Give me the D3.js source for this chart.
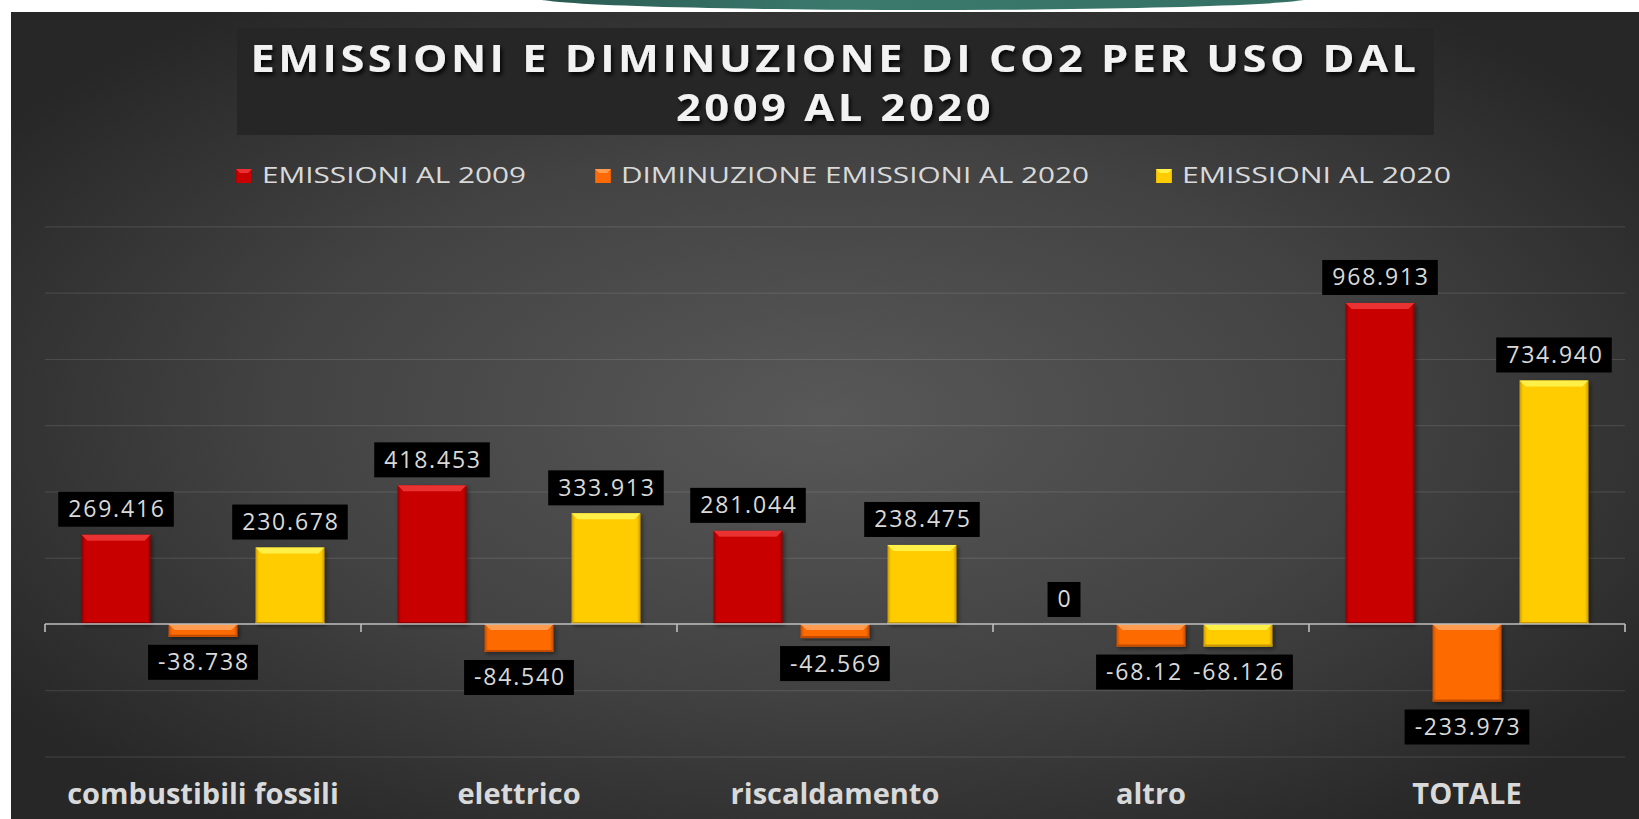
<!DOCTYPE html>
<html>
<head>
<meta charset="utf-8">
<script src="https://cdn.jsdelivr.net/npm/d3@7"></script>
<style>
  body { margin: 0; background: #ffffff; }
  svg { display: block; }
</style>
</head>
<body>
<div id="chart"></div>
<script>
// data (tonnellate di CO2)
var categories = ["combustibili fossili", "elettrico", "riscaldamento", "altro", "TOTALE"];
var seriesNames = ["EMISSIONI AL 2009", "DIMINUZIONE EMISSIONI AL 2020", "EMISSIONI AL 2020"];
var emissioni2009 = [269416, 418453, 281044, 0, 968913];
var diminuzione2020 = [-38738, -84540, -42569, -68120, -233973];
var emissioni2020 = [230678, 333913, 238475, -68126, 734940];
var yTicks = [-400000, -200000, 0, 200000, 400000, 600000, 800000, 1000000, 1200000];
var titleLines = ["EMISSIONI E DIMINUZIONE DI CO2 PER USO DAL", "2009 AL 2020"];

var seriesValues = [emissioni2009, diminuzione2020, emissioni2020];
var colors = [
  { main: "#c80000", light: "#ea3030", dark: "#8a0000" },
  { main: "#fd6a05", light: "#ff9c50", dark: "#c24c00" },
  { main: "#ffcc00", light: "#fff04a", dark: "#c99a00" }
];

var width = 1639, height = 819;

var svg = d3.select("#chart").append("svg")
  .attr("width", width)
  .attr("height", height);

var defs = svg.append("defs");

var bg = defs.append("radialGradient").attr("id", "bg")
  .attr("cx", "50%").attr("cy", "50%").attr("r", "62%");
bg.append("stop").attr("offset", "0%").attr("stop-color", "#585858");
bg.append("stop").attr("offset", "55%").attr("stop-color", "#424242");
bg.append("stop").attr("offset", "100%").attr("stop-color", "#272727");

var teal = defs.append("linearGradient").attr("id", "teal")
  .attr("x1", "0").attr("x2", "1").attr("y1", "0").attr("y2", "0");
teal.append("stop").attr("offset", "0%").attr("stop-color", "#2a5a52");
teal.append("stop").attr("offset", "40%").attr("stop-color", "#3c7a6e");
teal.append("stop").attr("offset", "100%").attr("stop-color", "#357064");

colors.forEach(function (c, i) {
  var g = defs.append("linearGradient").attr("id", "bar" + i)
    .attr("x1", "0").attr("x2", "1").attr("y1", "0").attr("y2", "0");
  g.append("stop").attr("offset", "0%").attr("stop-color", c.dark);
  g.append("stop").attr("offset", "5%").attr("stop-color", c.main);
  g.append("stop").attr("offset", "95%").attr("stop-color", c.main);
  g.append("stop").attr("offset", "100%").attr("stop-color", c.dark);
});

var shadow = defs.append("filter").attr("id", "shadow")
  .attr("x", "-20%").attr("y", "-20%").attr("width", "140%").attr("height", "140%");
shadow.append("feDropShadow").attr("dx", 2).attr("dy", 2).attr("stdDeviation", 2)
  .attr("flood-color", "#000").attr("flood-opacity", 0.45);

var tshadow = defs.append("filter").attr("id", "tshadow")
  .attr("x", "-5%").attr("y", "-30%").attr("width", "110%").attr("height", "160%");
tshadow.append("feDropShadow").attr("dx", 2).attr("dy", 3).attr("stdDeviation", 2)
  .attr("flood-color", "#000").attr("flood-opacity", 0.9);

// teal shape at top of slide + panel
svg.append("ellipse")
  .attr("cx", 923).attr("cy", -2).attr("rx", 386).attr("ry", 12)
  .attr("fill", "url(#teal)");

svg.append("rect")
  .attr("x", 11).attr("y", 12)
  .attr("width", width - 11).attr("height", height - 12)
  .attr("fill", "url(#bg)");

// title
svg.append("rect")
  .attr("x", 237).attr("y", 28)
  .attr("width", 1197).attr("height", 107)
  .attr("fill", "#262626");

var titleLen = [1169, 318];
svg.selectAll(".title")
  .data(titleLines)
  .enter()
  .append("text")
  .attr("class", "title")
  .attr("x", 835)
  .attr("y", function (d, i) { return 72 + i * 49; })
  .attr("text-anchor", "middle")
  .attr("textLength", function (d, i) { return titleLen[i]; })
  .attr("lengthAdjust", "spacingAndGlyphs")
  .style("font-family", "'Open Sans', sans-serif")
  .style("font-weight", "bold")
  .style("font-size", "37px")
  .style("letter-spacing", "3px")
  .style("fill", "#f2f2f2")
  .attr("filter", "url(#tshadow)")
  .text(function (d) { return d; });

// legend
var legendX = [236, 595, 1156];
var legendLen = [264, 468, 269];
var legend = svg.selectAll(".legend")
  .data(seriesNames)
  .enter()
  .append("g")
  .attr("class", "legend")
  .attr("transform", function (d, i) { return "translate(" + legendX[i] + ",169)"; });

legend.append("rect")
  .attr("width", 16).attr("height", 14)
  .attr("fill", function (d, i) { return "url(#bar" + i + ")"; });
legend.append("path")
  .attr("d", "M0,0H16L12,4H4Z")
  .attr("fill", function (d, i) { return colors[i].light; });
legend.append("text")
  .attr("x", 26).attr("y", 14)
  .attr("textLength", function (d, i) { return legendLen[i]; })
  .attr("lengthAdjust", "spacingAndGlyphs")
  .style("font-family", "'Open Sans', sans-serif")
  .style("font-size", "21px")
  .style("fill", "#d9d9d9")
  .text(function (d) { return d; });

// scales
var x0 = d3.scaleBand().domain(categories).range([45, 1625]);
var x1 = d3.scaleBand().domain(d3.range(3)).range([0, x0.bandwidth()])
  .paddingInner(0.207).paddingOuter(0.42);
var y = d3.scaleLinear().domain([-400000, 1200000]).range([756.5, 226.4]);

// gridlines
var grid = svg.append("g")
  .attr("transform", "translate(45,0)")
  .call(d3.axisLeft(y).tickValues(yTicks.filter(function (t) { return t !== 0; }))
    .tickSize(-1580).tickFormat(""));
grid.select(".domain").remove();
grid.selectAll("line").attr("stroke", "#ffffff").attr("stroke-opacity", 0.13);

// bars
var it = d3.formatLocale({ decimal: ",", thousands: ".", grouping: [3], currency: ["€", ""], minus: "-" });
var fmt = it.format(",");

var rows = [];
seriesValues.forEach(function (vals, s) {
  vals.forEach(function (v, c) {
    rows.push({ s: s, cat: categories[c], v: v });
  });
});

function barX(d) { return x0(d.cat) + x1(d.s); }

var bars = svg.append("g").selectAll("g.bar")
  .data(rows.filter(function (d) { return d.v !== 0; }))
  .enter()
  .append("g")
  .attr("class", "bar")
  .attr("filter", "url(#shadow)");

bars.append("rect")
  .attr("x", barX)
  .attr("y", function (d) { return Math.min(y(d.v), y(0)); })
  .attr("width", x1.bandwidth())
  .attr("height", function (d) { return Math.abs(y(d.v) - y(0)); })
  .attr("fill", function (d) { return "url(#bar" + d.s + ")"; });

bars.append("path")
  .attr("d", function (d) {
    var x = barX(d), w = x1.bandwidth();
    var top = Math.min(y(d.v), y(0));
    var b = Math.min(6, Math.abs(y(d.v) - y(0)) / 2);
    return "M" + x + "," + top + "H" + (x + w) + "L" + (x + w - b) + "," + (top + b) +
      "H" + (x + b) + "Z";
  })
  .attr("fill", function (d) { return colors[d.s].light; });

bars.append("line")
  .attr("x1", barX)
  .attr("x2", function (d) { return barX(d) + x1.bandwidth(); })
  .attr("y1", function (d) { return Math.max(y(d.v), y(0)) - 1; })
  .attr("y2", function (d) { return Math.max(y(d.v), y(0)) - 1; })
  .attr("stroke", function (d) { return colors[d.s].dark; })
  .attr("stroke-width", 2);

// zero axis with boundary ticks
var axis = svg.append("g").attr("class", "zero-axis");
axis.append("line")
  .attr("x1", 45).attr("x2", 1625)
  .attr("y1", y(0)).attr("y2", y(0))
  .attr("stroke", "#bfbfbf").attr("stroke-width", 1.6);
axis.selectAll("line.tick")
  .data(categories.map(function (c) { return x0(c); }).concat([x0.range()[1]]))
  .enter()
  .append("line")
  .attr("class", "tick")
  .attr("x1", function (d) { return d; }).attr("x2", function (d) { return d; })
  .attr("y1", y(0)).attr("y2", y(0) + 8)
  .attr("stroke", "#bfbfbf").attr("stroke-width", 1.6);

// category labels
var xAxis = svg.append("g")
  .attr("transform", "translate(0," + y(0) + ")")
  .call(d3.axisBottom(x0).tickSize(0).tickPadding(159));
xAxis.select(".domain").remove();
xAxis.selectAll("text")
  .style("font-family", "'Open Sans', sans-serif")
  .style("font-weight", "bold")
  .style("font-size", "29px")
  .style("fill", "#d9d9d9");

// data labels
var labels = svg.append("g").selectAll("g.label")
  .data(rows)
  .enter()
  .append("g")
  .attr("class", "label");

labels.each(function (d) {
  var g = d3.select(this);
  var cx = barX(d) + x1.bandwidth() / 2;
  var top = d.v >= 0 ? y(d.v) - 8 - 35 : y(d.v) + 8;
  if (d.v === 0) top = y(0) - 7 - 35;
  var rect = g.append("rect").attr("fill", "#000");
  var t = g.append("text")
    .attr("x", cx + 1)
    .attr("y", top + 25.5)
    .attr("text-anchor", "middle")
    .style("font-family", "'Open Sans', sans-serif")
    .style("font-size", "23px")
    .style("letter-spacing", "1.8px")
    .style("fill", "#d9d9d9")
    .text(fmt(d.v));
  var w = t.node().getBBox().width + 18;
  rect.attr("x", cx - w / 2).attr("y", top).attr("width", w).attr("height", 35);
});
</script>
</body>
</html>
